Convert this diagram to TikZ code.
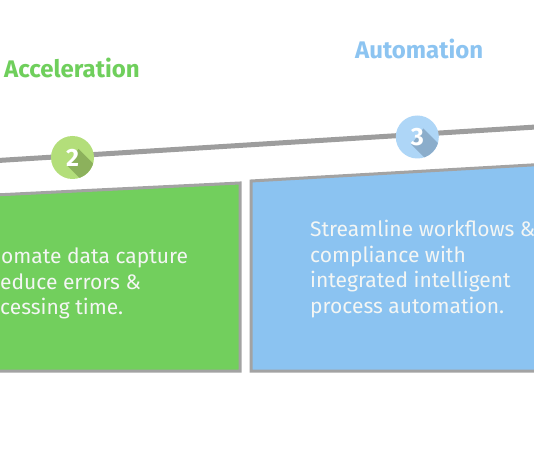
\documentclass[tikz,border=0pt]{standalone}
\usepackage{fontspec}
\setmainfont{Fira Sans}
\definecolor{gline}{HTML}{9D9D9D}
\definecolor{gborder}{HTML}{A3A3A3}
\definecolor{gfill}{HTML}{72CF5D}
\definecolor{bfill}{HTML}{8BC3F1}
\definecolor{gcirc}{HTML}{B3DE7A}
\definecolor{gshadow}{HTML}{8CB15C}
\definecolor{bcirc}{HTML}{AED6F7}
\definecolor{bshadow}{HTML}{8BADCB}
\definecolor{ghead}{HTML}{6FCF5C}
\definecolor{bhead}{HTML}{8CC4F1}
\definecolor{btext}{HTML}{F4F6F4}
\tikzset{
  tline/.style={draw=gline, line width=5pt},
  panel/.style={draw=gborder, line width=3pt, line join=miter},
  head/.style={font=\fontsize{24}{28}\selectfont\bfseries, inner sep=0pt, anchor=base west},
  body/.style={font=\fontsize{21}{26}\selectfont, text=btext, inner sep=0pt, anchor=base west},
  digit/.style={font=\fontsize{25}{25}\selectfont\bfseries, text=white, inner sep=0pt},
}
\begin{document}
\begin{tikzpicture}[x=1pt,y=-1pt]
\useasboundingbox (0,0) rectangle (534,462);
\fill[white] (0,0) rectangle (534,462);
% timeline
\coordinate (l0) at (-2,160.5);
\coordinate (l1) at (536,127);
\draw[tline] (l0) -- (l1);
% panels
\filldraw[panel, fill=gfill] (-5,195) -- (240,183) -- (240,371) -- (-5,371) -- cycle;
\filldraw[panel, fill=bfill] (251,181) -- (540,164.5) -- (540,371) -- (251,371) -- cycle;
% circle 2
\begin{scope}
  \fill[gcirc] (72.5,157.5) circle (21.5);
  \clip (72.5,157.5) circle (21.5);
  \fill[gshadow] (78.5,149) -- (110,180.5) -- (98,196.5) -- (66.5,165) -- cycle;
\end{scope}
\node[digit] (c2) at (72.5,157.5) {2};
% circle 3
\begin{scope}
  \fill[bcirc] (417.3,137) circle (21.5);
  \clip (417.3,137) circle (21.5);
  \fill[bshadow] (423.3,128.5) -- (455,160) -- (443,176) -- (411.3,144.5) -- cycle;
\end{scope}
\node[digit] (c3) at (417.3,137) {3};
% headings
\node[head, text=ghead] (h2) at (4,78) {Acceleration};
\node[head, text=bhead] (h3) at (355,59) {Automation};
% green text
\node[body] (g1) at (1,263.3) {omate data capture};
\node[body] (g2) at (0,289) {educe errors \&};
\node[body] (g3) at (0,314) {cessing time.};
% blue text
\node[body] (b1) at (310,236) {Streamline workflows \&};
\node[body] (b2) at (310,262) {compliance with};
\node[body] (b3) at (310,287.5) {integrated intelligent};
\node[body] (b4) at (310,313) {process automation.};
\end{tikzpicture}
\end{document}
